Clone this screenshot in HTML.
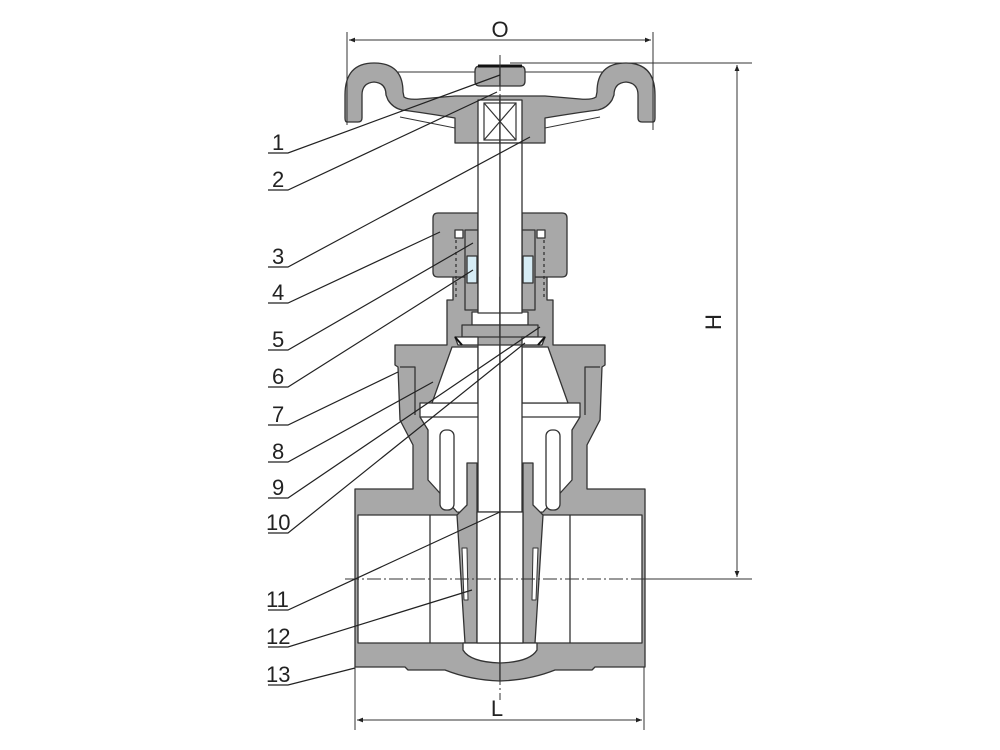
<!DOCTYPE html>
<html><head><meta charset="utf-8"><style>
html,body{margin:0;padding:0;background:#fff}
svg{display:block}
text{font-family:"Liberation Sans",sans-serif;fill:#222}
</style></head><body>
<svg width="1000" height="750" viewBox="0 0 1000 750" xmlns="http://www.w3.org/2000/svg">
<defs>
<marker id="ar" viewBox="0 0 10 10" refX="10" refY="5" markerWidth="12" markerHeight="6" orient="auto-start-reverse" markerUnits="userSpaceOnUse"><path d="M0,1 L10,5 L0,9 Z" fill="#222"/></marker>
<g id="half" stroke="#333" stroke-width="1.3" stroke-linejoin="round">
 <!-- body -->
 <path fill="#a8a8a8" d="M355,489 L413,489 L413,445 L400,420 L398,367 L395,365 L395,345 L447,345 L447,300 L453,300 L453,277 L500,277 L500,681 Q470,680 445,670 L408,670 L405,667 L355,667 Z"/>
 <!-- bore & cavity -->
 <path fill="#fff" d="M358,515 L500,515 L500,643 L358,643 Z"/>
 <line x1="430" y1="515" x2="430" y2="643"/>
 <path fill="#fff" d="M420,403 L500,403 L500,515 L457,512 L428,480 L428,430 L420,417 Z"/>
 <line x1="420" y1="417" x2="478" y2="417"/>
 <rect x="440" y="430" width="14" height="80" rx="6" fill="#fff"/>
 <!-- bonnet inner cone -->
 <path fill="#fff" d="M452,347 L478,347 L478,403 L432,403 Z"/>
 <path fill="none" d="M400,367 L415,367 L415,415"/>
 <!-- wedge -->
 <path fill="#a8a8a8" d="M467,463 L477,463 L477,643 L465,643 L457,515 L467,505 Z"/>
 <path fill="#fff" d="M462,548 L467,548 L468,600 L464,600 Z" stroke-width="1"/>
 <!-- seat lens -->
 <path fill="#fff" d="M463,643 L500,643 L500,663 Q470,662 463,650 Z"/>
 <!-- packing nut -->
 <path fill="#a8a8a8" d="M438,213 L478,213 L478,277 L438,277 Q433,277 433,272 L433,218 Q433,213 438,213 Z"/>
 <rect x="455" y="230" width="8" height="8" fill="#fff"/>
 <rect x="465" y="230" width="13" height="80" fill="#a8a8a8"/>
 <rect x="467" y="256" width="10" height="27" fill="#d6ecf5"/>
 <line x1="456" y1="240" x2="456" y2="300" stroke-dasharray="3,3"/>
 <!-- ring and washer -->
 <rect x="472" y="312" width="28" height="13" fill="#fff"/>
 <rect x="462" y="325" width="38" height="12" fill="#a8a8a8"/>
 <path fill="#fff" d="M455,337 L478,337 L478,345 L458,345 Z"/>
 <path d="M455,337 L462,345" stroke="#111" stroke-width="2"/>
 <!-- handwheel -->
 <path fill="#a8a8a8" d="M347,122 Q345,122 345,118 L345,95 Q345,63 374,63 Q403,63 403,92 L404,97 Q408,100 420,99 L455,96 L500,96 L500,143 L455,143 L455,118 Q425,113 402,110 Q393,108 388,100 L386,95 Q386,83 374,82 Q362,83 362,95 L362,118 Q362,122 358,122 Z"/>
 <line x1="398" y1="72" x2="477" y2="72" stroke-width="1"/>
 <line x1="400" y1="117" x2="455" y2="128" stroke-width="1"/>
 <rect x="478" y="100" width="22" height="43" fill="#fff"/>
 <path fill="#a8a8a8" d="M480,66 L500,66 L500,86 L480,86 Q475,86 475,81 L475,71 Q475,66 480,66 Z"/>
 <!-- stem -->
 <rect x="478" y="143" width="22" height="170" fill="#fff"/>
 <rect x="478" y="345" width="22" height="167" fill="#fff"/>
 <rect x="477" y="512" width="23" height="131" fill="#fff"/>
</g>
</defs>

<use href="#half"/>
<use href="#half" transform="translate(1000,0) scale(-1,1)"/>
<g stroke="#333" stroke-width="1.2" fill="none">
 <rect x="484" y="103" width="32" height="37"/>
 <line x1="484" y1="103" x2="516" y2="140"/><line x1="516" y1="103" x2="484" y2="140"/>
 <line x1="478" y1="66" x2="522" y2="66" stroke="#111" stroke-width="3"/>
</g>
<g stroke="#333" stroke-width="1" fill="none">
 <line x1="500" y1="55" x2="500" y2="700" stroke-dasharray="14,3,2,3"/>
 <line x1="345" y1="579" x2="644" y2="579" stroke-dasharray="14,3,2,3"/>
 <line x1="644" y1="579" x2="752" y2="579"/>
 <line x1="510" y1="63" x2="752" y2="63"/>
 <line x1="347" y1="32" x2="347" y2="125"/>
 <line x1="653" y1="32" x2="653" y2="130"/>
 <line x1="355" y1="667" x2="355" y2="730"/>
 <line x1="644" y1="667" x2="644" y2="730"/>
 <line x1="349" y1="40" x2="651" y2="40" marker-start="url(#ar)" marker-end="url(#ar)"/>
 <line x1="737" y1="65" x2="737" y2="577" marker-start="url(#ar)" marker-end="url(#ar)"/>
 <line x1="357" y1="720" x2="642" y2="720" marker-start="url(#ar)" marker-end="url(#ar)"/>
</g>
<text x="500" y="37" font-size="22" text-anchor="middle">O</text>
<text x="497" y="716" font-size="22" text-anchor="middle">L</text>
<text x="0" y="0" font-size="22" text-anchor="middle" transform="translate(721,322) rotate(-90)">H</text>

<g stroke="#222" stroke-width="1.2" fill="none">
 <path d="M268,153 L288,153 L500,75"/>
 <path d="M268,190 L288,190 L497,92"/>
 <path d="M268,267 L288,267 L530,137"/>
 <path d="M268,303 L288,303 L440,232"/>
 <path d="M268,350 L288,350 L473,243"/>
 <path d="M268,387 L288,387 L473,270"/>
 <path d="M268,425 L288,425 L398,372"/>
 <path d="M268,462 L288,462 L433,382"/>
 <path d="M268,498 L288,498 L540,327"/>
 <path d="M268,533 L288,533 L525,343"/>
 <path d="M268,610 L288,610 L500,512"/>
 <path d="M268,647 L288,647 L472,590"/>
 <path d="M268,685 L288,685 L355,668"/>
</g>
<g font-size="22">
 <text x="272" y="150">1</text>
 <text x="272" y="187">2</text>
 <text x="272" y="264">3</text>
 <text x="272" y="300">4</text>
 <text x="272" y="347">5</text>
 <text x="272" y="384">6</text>
 <text x="272" y="422">7</text>
 <text x="272" y="459">8</text>
 <text x="272" y="495">9</text>
 <text x="266" y="530">10</text>
 <text x="266" y="607">11</text>
 <text x="266" y="644">12</text>
 <text x="266" y="682">13</text>
</g>
</svg>
</body></html>
